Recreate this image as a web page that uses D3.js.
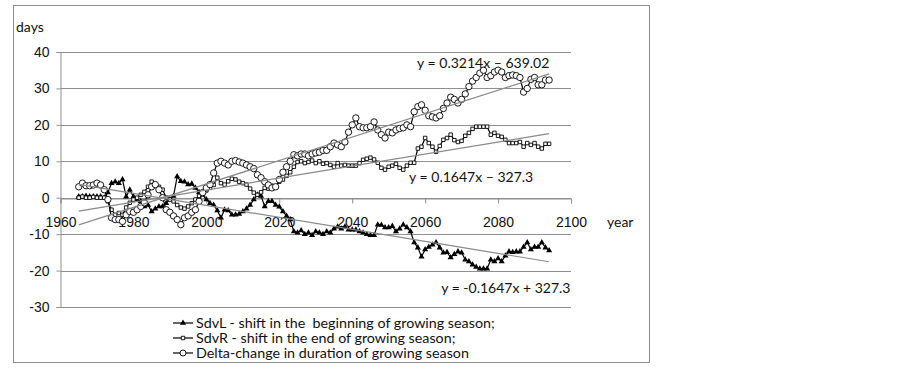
<!DOCTYPE html>
<html>
<head>
<meta charset="utf-8">
<script src="https://cdn.jsdelivr.net/npm/d3@7"></script>
<style>
  body { margin: 0; background: #fff; }
  svg { display: block; font-family: Lato, "Liberation Sans", sans-serif; }
</style>
</head>
<body>
<div id="chart"></div>
<script>
// first year of the series, one value per year after that
const firstYear = 1965;

// SdvL - shift in the beginning of growing season
const sdvL = [
  0.3, 0.3, 0.5, 0.3, 0.3, 0.3, 0.3, 0, 1.4, 4,
  4.4, 4, 5, 0.3, 2.2, 0.3, -0.5, -1, -2.4, -2,
  -3.8, -3, -2.4, -2.4, -1.5, -0.5, 0.5, 5.8, 4.5, 4.4,
  3.6, 3.8, 2.7, 1.5, 0.8, -0.5, -1.5, -2, -3.5, -5.5,
  -3.3, -3.5, -4.7, -4.7, -4.5, -3.8, -3, -2, -0.5, 0.8,
  0.5, -2.4, -1, -1, -2, -2.5, -3.8, -5, -6, -9.3,
  -9.6, -9, -10, -9.6, -10.3, -9.3, -9.6, -10, -9.3, -9.6,
  -8.5, -8, -8.5, -8, -8.8, -8.8, -8.8, -9.3, -9.6, -10,
  -10.3, -10.3, -7.4, -7.5, -8.2, -8.2, -7.8, -9.3, -8.5, -7.4,
  -8.2, -9.3, -12.3, -13.7, -16.2, -14.2, -13.5, -12.9, -12.3, -13.7,
  -15.1, -15, -16.4, -15.5, -14.8, -15.1, -17, -17.5, -18.4, -19,
  -19.5, -19.5, -19.5, -17, -17.5, -16.7, -17.5, -15.9, -14.8, -15,
  -14.8, -14.8, -13.5, -12.3, -14.2, -13.5, -13.5, -12.3, -13.7, -14.5
];

// SdvR - shift in the end of growing season
const sdvR = [
  0, 0.3, 0, 0, 0.2, 0, 0, 0, -1, -3.3,
  -4.7, -4.2, -4.7, -2.7, -1.4, -0.5, 0, 0.8, 1.6, 3,
  4.4, 3.6, 3, 2.2, 0, -0.5, -1, -2, -2.7, -3,
  -2.4, -1.5, -0.5, 0.5, 1.4, 2, 2.7, 3.5, 5.5, 4,
  3.6, 4.5, 5.2, 5, 4.4, 4, 3.6, 2.5, 1.4, 0.8,
  1.5, 2.7, 2.5, 3.3, 3, 4.4, 5, 6, 7, 8.5,
  9.8, 10, 9.5, 9.8, 10.2, 9.5, 10, 9.3, 9.5, 9,
  8.5, 9.5, 8.8, 9, 8.8, 8.8, 8.8, 9.5, 10.4, 10.7,
  11, 10.5, 9.6, 8.2, 7.7, 8.5, 8.8, 9.3, 8.2, 7.7,
  8.8, 9.6, 9.6, 13.5, 14, 16.4, 15, 14, 12.6, 14.2,
  15.9, 16.4, 17.3, 15.8, 15.3, 15.6, 17, 17.8, 18.9, 19.5,
  19.5, 19.5, 19.5, 17.3, 17.8, 17, 16.7, 15.9, 15, 15,
  15, 15.3, 14, 15, 14.5, 15, 14, 13.5, 14.8, 14.8
];

// Delta - change in duration of growing season
const delta = [
  3, 4, 3.3, 3.3, 3.5, 4, 3.5, 2.2, -0.5, -5.5,
  -6, -6, -6.5, -4.7, -3.8, -4, -3.3, -2.4, -1.4, 0.8,
  3, 3.6, 2.2, 0, -3.3, -4, -5, -6, -7.4, -5.5,
  -5, -4, -3.3, -1, 1.4, 2.7, 3.6, 6.8, 9.5, 10,
  9.5, 9, 10, 10.2, 9.8, 9.5, 9, 8.5, 8, 6.3,
  5.5, 4.4, 3.5, 2.7, 3, 5, 7, 8.5, 10, 11.8,
  11.5, 12, 12, 11.5, 12, 12.3, 12.5, 13, 13, 14,
  15, 14.5, 14, 15.3, 18, 20, 21.9, 19.5, 19.2, 19.2,
  19.5, 20.8, 18.6, 17.3, 16.4, 18, 17.8, 18.6, 19, 19.2,
  20, 19.5, 23.6, 25, 25.5, 24, 22.5, 22.2, 21.9, 22.5,
  24.5, 26, 27.6, 27, 26, 27, 28.5, 30.5, 32, 33,
  34.2, 35, 33, 33.5, 34.5, 35, 34.5, 33, 33.5, 33.7,
  33.5, 33, 29, 30, 32.5, 33, 31, 31, 32.3, 32.3
];

// linear trends printed on the chart: slope, intercept, label
const trends = [
  { slope: 0.3214, icpt: -639.02, label: "y = 0.3214x \u2013 639.02", at: [2057.8, 35.6] },
  { slope: 0.1647, icpt: -327.3, label: "y = 0.1647x \u2013 327.3", at: [2055.6, 4.3] },
  { slope: -0.1647, icpt: 327.3, label: "y = -0.1647x + 327.3", at: [2064.4, -26.1] }
];

const xTicks = [1960, 1980, 2000, 2020, 2040, 2060, 2080, 2100];
const yTicks = [-30, -20, -10, 0, 10, 20, 30, 40];

const legendLabels = [
  "SdvL - shift in the  beginning of growing season;",
  "SdvR - shift in the end of growing season;",
  "Delta-change in duration of growing season"
];

const W = 902, H = 369;

const svg = d3.select("#chart").append("svg")
  .attr("width", W)
  .attr("height", H);

// outer chart frame
svg.append("rect")
  .attr("x", 13.5).attr("y", 5.5)
  .attr("width", 636).attr("height", 357)
  .attr("fill", "none")
  .attr("stroke", "#8c8c8c");

const x = d3.scaleLinear().domain([1960, 2100]).range([60.5, 571]);
const y = d3.scaleLinear().domain([-30, 40]).range([307, 52]);

// horizontal gridlines
svg.append("g")
  .selectAll("line")
  .data(yTicks)
  .join("line")
  .attr("x1", x(1960)).attr("x2", x(2100))
  .attr("y1", d => Math.round(y(d)) + 0.5)
  .attr("y2", d => Math.round(y(d)) + 0.5)
  .attr("stroke", "#8f8f8f");

// y axis (plain hyphen for negatives, like the source)
const yAxis = svg.append("g")
  .attr("transform", `translate(${x(1960)},0)`)
  .call(d3.axisLeft(y).tickValues(yTicks).tickSize(4).tickPadding(7).tickFormat(d => String(d)));
yAxis.select(".domain").attr("stroke", "#8f8f8f");
yAxis.selectAll(".tick line").attr("stroke", "#8f8f8f");
yAxis.selectAll("text").attr("font-size", 14).attr("fill", "#111");

// x axis sits on the zero line
const xAxis = svg.append("g")
  .attr("transform", `translate(0,${Math.round(y(0)) + 0.5})`)
  .call(d3.axisBottom(x).tickValues(xTicks).tickSize(5).tickPadding(14).tickFormat(d => String(d)));
xAxis.select(".domain").attr("stroke", "#8f8f8f");
xAxis.selectAll(".tick line").attr("stroke", "#8f8f8f");
xAxis.selectAll("text").attr("font-size", 14).attr("fill", "#111");

svg.append("text")
  .attr("x", 16).attr("y", 32)
  .attr("font-size", 14).attr("fill", "#111")
  .text("days");

svg.append("text")
  .attr("x", 607).attr("y", 227)
  .attr("font-size", 14).attr("fill", "#111")
  .text("year");

const line = d3.line()
  .x((d, i) => x(firstYear + i))
  .y(d => y(d));

const triangle = d3.symbol().type(d3.symbolTriangle).size(16);
const square = d3.symbol().type(d3.symbolSquare).size(12);

function drawSeries(values, kind) {
  const g = svg.append("g");
  g.append("path")
    .attr("d", line(values))
    .attr("fill", "none")
    .attr("stroke", "#000")
    .attr("stroke-width", 1.2);
  const pts = g.selectAll(".pt")
    .data(values)
    .join(kind === "circle" ? "circle" : "path")
    .attr("class", "pt");
  if (kind === "circle") {
    pts.attr("cx", (d, i) => x(firstYear + i))
      .attr("cy", d => y(d))
      .attr("r", 3.2)
      .attr("fill", "#fff")
      .attr("stroke", "#000")
      .attr("stroke-width", 0.9);
  } else if (kind === "triangle") {
    pts.attr("d", triangle)
      .attr("transform", (d, i) => `translate(${x(firstYear + i)},${y(d)})`)
      .attr("fill", "#000");
  } else {
    pts.attr("d", square)
      .attr("transform", (d, i) => `translate(${x(firstYear + i)},${y(d)})`)
      .attr("fill", "#fff")
      .attr("stroke", "#000")
      .attr("stroke-width", 0.9);
  }
}

drawSeries(sdvL, "triangle");
drawSeries(sdvR, "square");
drawSeries(delta, "circle");

// trend lines over the span of the data
const lastYear = firstYear + delta.length - 1;
svg.append("g")
  .selectAll("line")
  .data(trends)
  .join("line")
  .attr("x1", x(firstYear)).attr("x2", x(lastYear))
  .attr("y1", d => y(d.slope * firstYear + d.icpt))
  .attr("y2", d => y(d.slope * lastYear + d.icpt))
  .attr("stroke", "#8a8a8a")
  .attr("stroke-width", 1.2);

svg.append("g")
  .selectAll("text")
  .data(trends)
  .join("text")
  .attr("x", d => x(d.at[0]))
  .attr("y", d => y(d.at[1]))
  .attr("font-size", 14)
  .attr("fill", "#111")
  .text(d => d.label);

// legend
const kinds = ["triangle", "square", "circle"];
const legend = svg.append("g");
legendLabels.forEach((label, i) => {
  const cy = 323 + i * 15;
  const row = legend.append("g").attr("transform", `translate(0,${cy})`);
  row.append("line")
    .attr("x1", 173).attr("x2", 193)
    .attr("stroke", "#000").attr("stroke-width", 1.2);
  if (kinds[i] === "circle") {
    row.append("circle").attr("cx", 183).attr("r", 3)
      .attr("fill", "#fff").attr("stroke", "#000").attr("stroke-width", 0.9);
  } else if (kinds[i] === "triangle") {
    row.append("path").attr("d", triangle).attr("transform", "translate(183,0)").attr("fill", "#000");
  } else {
    row.append("path").attr("d", square).attr("transform", "translate(183,0)")
      .attr("fill", "#fff").attr("stroke", "#000").attr("stroke-width", 0.9);
  }
  row.append("text")
    .attr("x", 196).attr("y", 5)
    .attr("font-size", 14.3).attr("fill", "#111")
    .attr("xml:space", "preserve")
    .style("white-space", "pre")
    .text(label);
});
</script>
</body>
</html>
